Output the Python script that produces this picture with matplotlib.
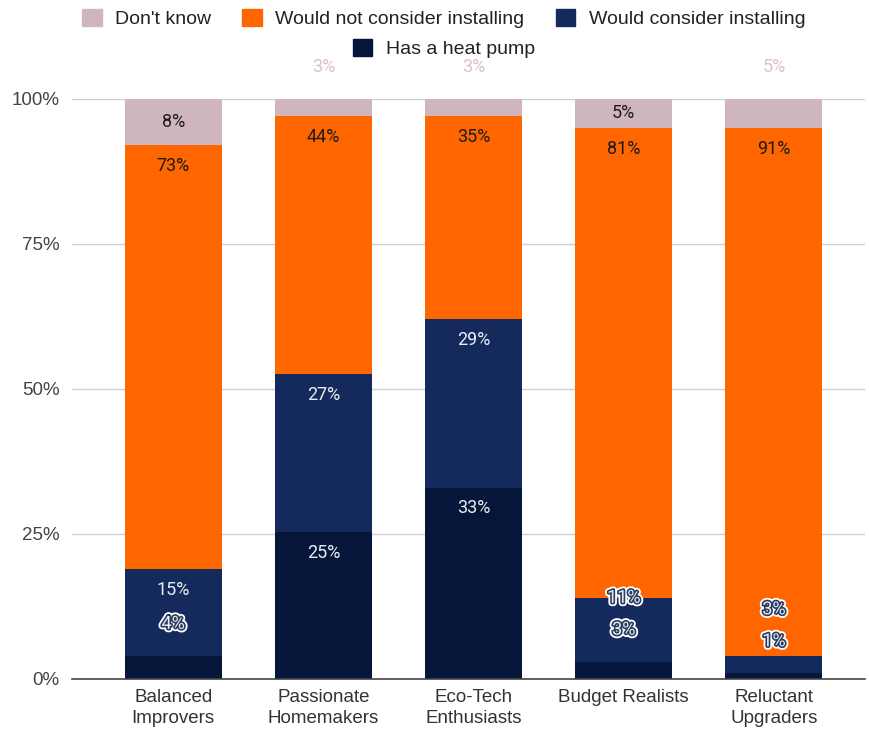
import numpy as np
import matplotlib.pyplot as plt
from matplotlib.patches import Patch
import matplotlib.patheffects as pe

# ========== DATA ==========
segments = ["Balanced\nImprovers", "Passionate\nHomemakers", "Eco-Tech\nEnthusiasts",
            "Budget Realists", "Reluctant\nUpgraders"]
has_heat_pump = [4, 25, 33, 3, 1]
would_consider = [15, 27, 29, 11, 3]
would_not = [73, 44, 35, 81, 91]
dont_know = [8, 3, 3, 5, 5]

# small "Don't know" labels are printed above the plot area
dk_label_outside = [False, True, True, False, True]

# ========== STYLE ==========
C_DK = "#cfb6bd"
C_NOT = "#ff6600"
C_CONS = "#14295c"
C_HP = "#06163a"
C_DK_TXT = "#dcc2c8"
LABEL_FONT = ["Roboto", "DejaVu Sans"]
plt.rcParams["font.family"] = ["Liberation Sans", "DejaVu Sans"]

DROP = 3.6   # label centre below segment top (in % units)
GAP = 5.5    # spacing between stacked labels (in % units)

fig = plt.figure(figsize=(8.7, 7.38), dpi=100)
ax = fig.add_axes([0.083, 0.080, 0.911, 0.786])

x = np.arange(len(segments))
width = 0.645

hp = np.array(has_heat_pump, float)
cons = np.array(would_consider, float)
wn = np.array(would_not, float)
dk = np.array(dont_know, float)
total = hp + cons + wn + dk
# 100% stacked: normalise each bar by its total
hp_n, cons_n, wn_n, dk_n = (a / total * 100 for a in (hp, cons, wn, dk))

ax.bar(x, hp_n, width, color=C_HP, zorder=2)
ax.bar(x, cons_n, width, bottom=hp_n, color=C_CONS, zorder=2)
ax.bar(x, wn_n, width, bottom=hp_n + cons_n, color=C_NOT, zorder=2)
ax.bar(x, dk_n, width, bottom=hp_n + cons_n + wn_n, color=C_DK, zorder=2)

outline = [pe.Stroke(linewidth=5, foreground="white"),
           pe.Stroke(linewidth=2.4, foreground="#2c3b60"),
           pe.Normal()]


def put(xi, y, txt, color, outlined=False):
    ax.text(xi, y, txt, ha="center", va="center", fontsize=13, color=color,
            family=LABEL_FONT, zorder=5, clip_on=False,
            path_effects=outline if outlined else None)


for i in range(len(x)):
    hp_top = hp_n[i]
    c_bot, c_top = hp_n[i], hp_n[i] + cons_n[i]
    wn_top = c_top + wn_n[i]

    # heat pump label: inside if room, else just above the segment
    if hp_n[i] >= 7:
        hp_y, hp_out = hp_top - DROP, False
    else:
        hp_y, hp_out = hp_top + GAP, True
    put(x[i], hp_y, f"{has_heat_pump[i]}%", "#e9edf4", outlined=hp_out)

    # consider label, pushed up when the heat pump label sits above
    c_y = c_top - DROP
    if hp_out:
        c_y = max(c_y, hp_y + GAP)
    c_out = (c_y + 1.5 > c_top) or (c_y - 1.5 < c_bot)
    put(x[i], c_y, f"{would_consider[i]}%", "#e9edf4", outlined=c_out)

    put(x[i], wn_top - DROP, f"{would_not[i]}%", "#1c1c1c")

    if dk_label_outside[i]:
        put(x[i], 105.5, f"{dont_know[i]}%", C_DK_TXT)
    else:
        put(x[i], wn_top + dk_n[i] / 2, f"{dont_know[i]}%", "#1c1c1c")

ax.set_xlim(-0.672, 4.605)
ax.set_ylim(0, 100)
ax.set_yticks([0, 25, 50, 75, 100])
ax.set_yticklabels(["0%", "25%", "50%", "75%", "100%"])
ax.set_xticks(x)
ax.set_xticklabels(segments, linespacing=1.3)
ax.tick_params(axis="y", length=0, pad=9, labelsize=13.5, labelcolor="#444444")
ax.tick_params(axis="x", length=0, pad=7, labelsize=13.5, labelcolor="#333333")

ax.yaxis.grid(True, color="#d0d0d0", lw=1, zorder=0)
for s in ("top", "right", "left"):
    ax.spines[s].set_visible(False)
ax.spines["bottom"].set_color("#444444")
ax.spines["bottom"].set_linewidth(1.2)
ax.spines["bottom"].set_zorder(3)

# legend in two centred rows
row1 = [Patch(color=C_DK, label="Don't know"),
        Patch(color=C_NOT, label="Would not consider installing"),
        Patch(color=C_CONS, label="Would consider installing")]
row2 = [Patch(color=C_HP, label="Has a heat pump")]
common = dict(frameon=False, fontsize=14, handlelength=1.0, handleheight=1.0,
              handletextpad=0.7, columnspacing=1.6, labelcolor="#222222")
fig.legend(handles=row1, ncol=3, loc="center", bbox_to_anchor=(0.51, 0.975), **common)
fig.legend(handles=row2, ncol=1, loc="center", bbox_to_anchor=(0.51, 0.934), **common)

plt.savefig("out.png", dpi=100)
